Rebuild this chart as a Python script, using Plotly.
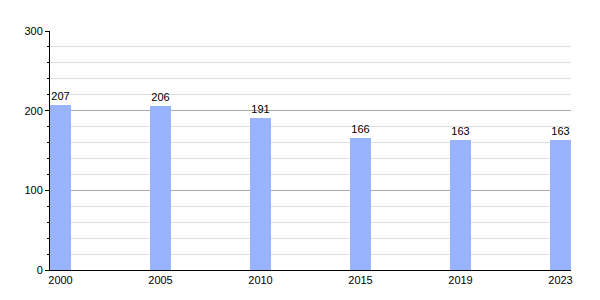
import plotly.graph_objects as go

years = ["2000", "2005", "2010", "2015", "2019", "2023"]
values = [207, 206, 191, 166, 163, 163]

positions = list(range(len(years)))
bar_w = 0.21

fig = go.Figure()
fig.add_trace(go.Bar(
    x=positions, y=values, width=bar_w, offset=0,
    marker=dict(color="#99b3ff", line=dict(width=0)),
    text=[str(v) for v in values], textposition="outside",
    textfont=dict(family="Liberation Sans, Arial, sans-serif", size=11, color="black"),
    cliponaxis=False,
))

fig.update_layout(
    width=600, height=300, autosize=False,
    margin=dict(l=50, r=29, t=31, b=30),
    paper_bgcolor="white", plot_bgcolor="white",
    showlegend=False,
    font=dict(family="Liberation Sans, Arial, sans-serif", size=11, color="black"),
    xaxis=dict(
        range=[0, len(years) - 1 + bar_w],
        tickvals=[p + bar_w / 2 for p in positions], ticktext=years,
        showgrid=False, zeroline=False, showline=True, linecolor="black", linewidth=1,
        ticks="", tickfont=dict(size=11),
    ),
    yaxis=dict(
        range=[0, 300], dtick=100, tick0=0,
        showgrid=True, gridcolor="#aaaaaa", gridwidth=1,
        zeroline=False, showline=True, linecolor="black", linewidth=1,
        ticks="outside", ticklen=4, tickcolor="black", tickfont=dict(size=11),
        minor=dict(dtick=20, showgrid=True, gridcolor="#e0e0e0", ticks="outside", ticklen=2, tickcolor="black"),
    ),
    bargap=0,
)

fig.write_html("out.html")
